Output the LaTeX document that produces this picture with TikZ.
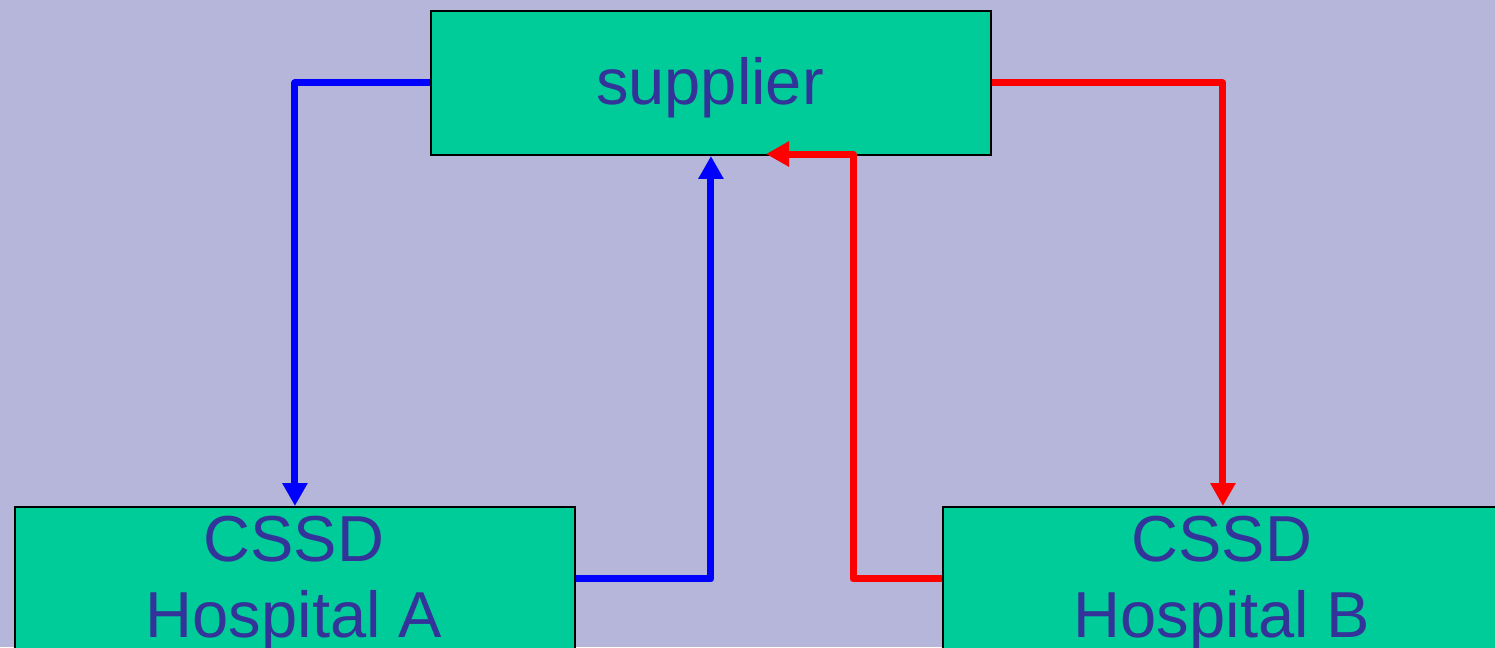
\documentclass[tikz,border=0pt]{standalone}
\usepackage{fontspec}
\setmainfont{Liberation Sans}
\usetikzlibrary{arrows.meta}
\definecolor{bgc}{RGB}{182,182,218}
\definecolor{boxc}{RGB}{0,204,153}
\definecolor{txtc}{RGB}{51,51,153}
\tikzset{
  box/.style={draw=black, line width=0.04cm, fill=boxc, minimum width=11.2cm, minimum height=2.88cm, inner sep=0pt, anchor=north west},
  lbl/.style={text=txtc, font=\fontsize{37}{43}\selectfont, anchor=base, inner sep=0pt},
  conn/.style={line width=0.14cm, line join=round, -{Triangle[length=0.46cm, width=0.48cm]}},
  blueconn/.style={conn, draw=blue},
  redconn/.style={conn, draw=red}
}
\begin{document}
\begin{tikzpicture}[x=0.02cm, y=-0.02cm]
\fill[bgc] (0,0) rectangle (1495,647);
\useasboundingbox (0,0) rectangle (1495,647);
\clip (0,0) rectangle (1495,647);
\node[box] (sup) at (430,10) {};
\node[box] (hA) at (14,506) {};
\node[box] (hB) at (942,506) {};
\node[lbl] (tsup) at (710,104) {supplier};
\node[lbl] (tA1) at (294,561) {CSSD};
\node[lbl] (tA2) at (294,637) {Hospital A};
\node[lbl] (tB1) at (1222,561) {CSSD};
\node[lbl] (tB2) at (1222,637) {Hospital B};
\coordinate (rt) at (853,154);
\coordinate (re) at (766,154);
\draw[blueconn] (sup.west) -| (hA.north);
\draw[blueconn] (hA.east) -| (sup.south);
\draw[redconn] (sup.east) -| (hB.north);
\draw[redconn] (hB.west) -| (rt) -- (re);
\end{tikzpicture}
\end{document}
